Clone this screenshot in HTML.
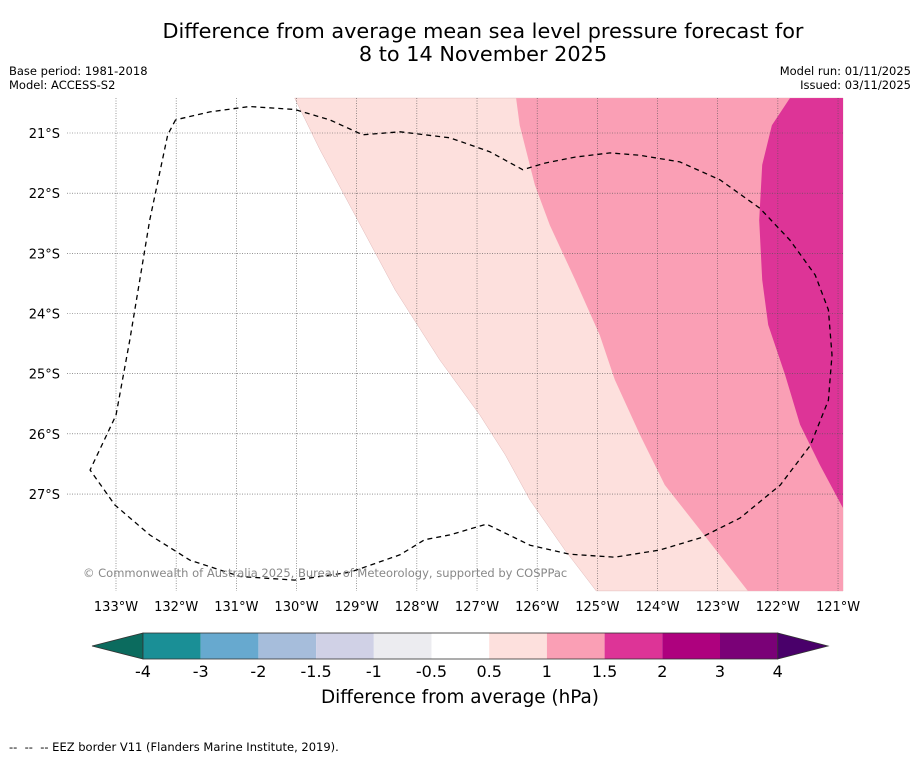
<!DOCTYPE html>
<html><head><meta charset="utf-8"><style>
body{margin:0;background:#fff;font-family:"DejaVu Sans","Liberation Sans",sans-serif;}
#wrap{position:relative;width:919px;height:758px;overflow:hidden;}
</style></head><body>
<div id="wrap">
<svg id="svg" width="919" height="758" xmlns="http://www.w3.org/2000/svg" style="font-family:'DejaVu Sans','Liberation Sans',sans-serif">
<text x="483" y="38" font-size="20.8" text-anchor="middle">Difference from average mean sea level pressure forecast for</text>
<text x="483" y="61" font-size="20.8" text-anchor="middle">8 to 14 November 2025</text>
<text x="9" y="75" font-size="11.5">Base period: 1981-2018</text>
<text x="9" y="89" font-size="11.5">Model: ACCESS-S2</text>
<text x="911" y="75" font-size="11.5" text-anchor="end">Model run: 01/11/2025</text>
<text x="911" y="89" font-size="11.5" text-anchor="end">Issued: 03/11/2025</text>
<g id="map"></g>
<g id="cbar"></g>
<text x="460" y="703" font-size="18.4" text-anchor="middle">Difference from average (hPa)</text>
<text x="9" y="751" font-size="11.5" xml:space="preserve">--  --  -- EEZ border V11 (Flanders Marine Institute, 2019).</text>
</svg>
</div>
<script>
const lonTicks=[-133,-132,-131,-130,-129,-128,-127,-126,-125,-124,-123,-122,-121];
const latTicks=[-21,-22,-23,-24,-25,-26,-27];
// contour boundaries (lon, lat)
const c05Lon=[-130.03,-129.61,-129.03,-128.36,-127.62,-126.95,-126.53,-126.12,-125.54,-125.02];
const c05Lat=[-20.42,-21.28,-22.36,-23.61,-24.77,-25.69,-26.35,-27.10,-27.93,-28.61];
const c10Lon=[-126.35,-126.29,-126.04,-125.79,-125.37,-124.96,-124.71,-124.29,-123.88,-123.29,-122.50];
const c10Lat=[-20.42,-20.87,-21.86,-22.53,-23.44,-24.36,-25.10,-26.02,-26.85,-27.60,-28.61];
const c15Lon=[-121.80,-122.10,-122.26,-122.31,-122.26,-122.16,-121.88,-121.63,-121.30,-120.92];
const c15Lat=[-20.42,-20.87,-21.53,-22.45,-23.44,-24.19,-25.02,-25.85,-26.52,-27.23];
const eezLon=[-132.01,-132.14,-132.44,-132.77,-133.00,-133.43,-133.02,-132.44,-131.77,-130.94,-130.03,-129.11,-128.28,-127.87,-127.45,-126.84,-126.12,-125.46,-124.71,-123.96,-123.29,-122.63,-121.96,-121.46,-121.16,-121.10,-121.16,-121.38,-121.80,-122.30,-122.96,-123.63,-124.29,-124.79,-125.37,-125.87,-126.24,-126.79,-127.45,-128.28,-128.90,-129.45,-130.03,-130.78,-131.44,-132.01];
const eezLat=[-20.78,-21.03,-22.45,-24.44,-25.69,-26.60,-27.18,-27.68,-28.10,-28.37,-28.43,-28.30,-28.01,-27.76,-27.68,-27.50,-27.85,-28.00,-28.05,-27.93,-27.73,-27.40,-26.85,-26.19,-25.44,-24.69,-23.94,-23.36,-22.78,-22.25,-21.78,-21.48,-21.37,-21.33,-21.40,-21.50,-21.61,-21.31,-21.08,-20.98,-21.03,-20.78,-20.61,-20.56,-20.65,-20.78];
const cbBounds=["-4","-3","-2","-1.5","-1","-0.5","0.5","1","1.5","2","3","4"];
const cbColors=["#1a8f96","#67a9cf","#a6bddb","#d0d1e6","#ececf0","#ffffff","#fde0dd","#fa9fb5","#dd3497","#ae017e","#7a0177"];

const NS="http://www.w3.org/2000/svg";
const PX=60.17, L=95, R=843, T=98, B=591;
const xs=lon=>116+(lon+133)*PX, ys=lat=>133+(-21-lat)*PX;
function mk(tag,at,p){const e=document.createElementNS(NS,tag);for(const k in at)e.setAttribute(k,at[k]);p.appendChild(e);return e;}
const map=document.getElementById('map');
function pts(lo,la){return lo.map((v,i)=>xs(v).toFixed(1)+','+ys(la[i]).toFixed(1));}
let p=mk('polygon',{points:[...pts(c05Lon,c05Lat),R+','+B,R+','+T].join(' '),fill:'#fde0dd',stroke:'#e0b8b8','stroke-width':0.5},map);


p=mk('polygon',{points:[...pts(c10Lon,c10Lat),R+','+B,R+','+T].join(' '),fill:'#fa9fb5'},map);


p=mk('polygon',{points:[...pts(c15Lon,c15Lat),R+','+T].join(' '),fill:'#dd3497'},map);


lonTicks.forEach(v=>{const x=xs(v);
 const l=mk('line',{x1:x,x2:x,y1:T,y2:B,stroke:'#555','stroke-width':0.6,'stroke-dasharray':'1,1.5'},map);
 
 
 const t=mk('text',{x:x,y:611,'font-size':13,'text-anchor':'middle'},map);t.textContent=Math.abs(v)+'°W';
 
 });
latTicks.forEach(v=>{const y=ys(v);
 const l=mk('line',{x1:67,x2:R,y1:y,y2:y,stroke:'#555','stroke-width':0.6,'stroke-dasharray':'1,1.5'},map);
 
 
 const t=mk('text',{x:60,y:y+5,'font-size':13,'text-anchor':'end'},map);t.textContent=Math.abs(v)+'°S';
 
 });
p=mk('polyline',{points:pts(eezLon,eezLat).join(' '),fill:'none',stroke:'#000','stroke-width':1.3,'stroke-dasharray':'5,4'},map);


const cp=mk('text',{x:83,y:577,'font-size':11.5,fill:'#888'},map);cp.textContent='© Commonwealth of Australia 2025, Bureau of Meteorology, supported by COSPPac';


const cb=document.getElementById('cbar');const x0=143,w=57.7,y0=633,h=26;
let tri=mk('polygon',{points:`92,646 ${x0},${y0} ${x0},${y0+h}`,fill:'#0b6b5e',stroke:'#333','stroke-width':0.8},cb);


const xe=x0+w*cbColors.length;
tri=mk('polygon',{points:`${xe},${y0} 828,646 ${xe},${y0+h}`,fill:'#49006a',stroke:'#333','stroke-width':0.8},cb);


cbColors.forEach((c,i)=>{const r=mk('rect',{x:x0+i*w,y:y0,width:w,height:h,fill:c},cb);
 
 });
mk('rect',{x:x0,y:y0,width:xe-x0,height:h,fill:'none',stroke:'#333','stroke-width':0.8},cb);
cbBounds.forEach((b,i)=>{const t=mk('text',{x:x0+i*w,y:677,'font-size':16,'text-anchor':'middle'},cb);t.textContent=b;
 
 });
</script>
</body></html>
